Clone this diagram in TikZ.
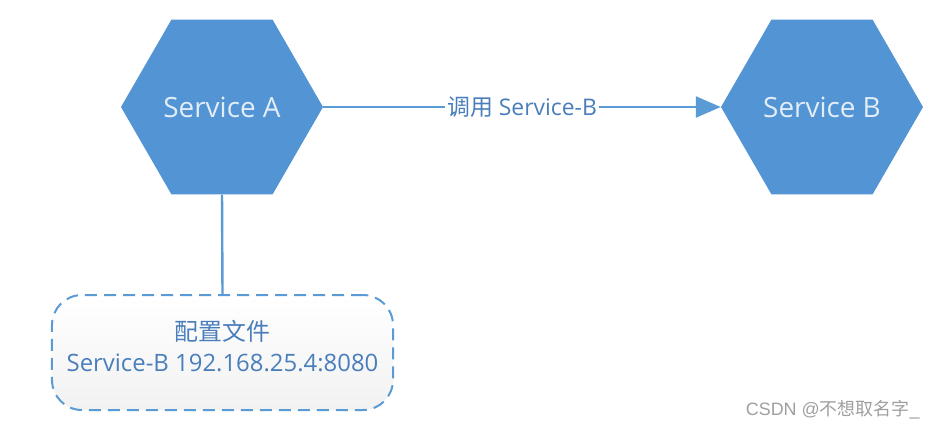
\documentclass[tikz,border=0pt]{standalone}
\usepackage{fontspec}
\setmainfont{Open Sans}
\newfontfamily\cjk{Noto Sans CJK SC}
\newfontfamily\wmfont{Liberation Sans}
\usetikzlibrary{shapes.geometric,arrows.meta}
\definecolor{hexblue}{HTML}{5294D4}
\definecolor{lineblue}{HTML}{5B9BD5}
\definecolor{txtblue}{HTML}{4A7EBB}
\definecolor{hextxt}{HTML}{E2EDF8}
\tikzset{
  service/.style={regular polygon, regular polygon sides=6, minimum size=202bp, inner sep=0pt,
    fill=hexblue, draw=none, text=hextxt, font=\fontsize{28}{32}\selectfont},
  conn/.style={draw=lineblue, line width=2.4bp},
  cfgbox/.style={draw=lineblue, line width=2bp, dash pattern=on 12bp off 7bp, rounded corners=30bp,
    minimum width=341bp, minimum height=115bp, top color=white, bottom color=blue!4!gray!10},
  cfgtext/.style={text=txtblue, align=center, inner sep=0pt, font=\fontsize{24}{32}\selectfont},
  midlabel/.style={fill=white, text=txtblue, inner sep=2bp, font=\fontsize{23}{26}\selectfont},
  wm/.style={text=gray!75, font=\fontsize{18}{22}\selectfont}
}
\begin{document}
\begin{tikzpicture}[x=1bp,y=-1bp]
\useasboundingbox[fill=white] (0,0) rectangle (937,429);
\node[service] (A) at (222,107) {Service A};
\node[service] (B) at (822,107) {Service B};
\node[cfgbox] (cfg) at (222.5,352.5) {};
\node[cfgtext] (cfgtxt) at (222.5,346) {{\cjk 配置文件}\\Service-B 192.168.25.4:8080};
\draw[conn, -{Triangle[length=25bp,width=21bp]}] (A.east) -- node[midlabel] (lbl) {{\cjk 调用} Service-B} (B.west);
\draw[conn] (A.south) -- (cfg.north);
\node[wm, anchor=east] (wmark) at (923,410) {\wmfont CSDN @{\cjk 不想取名字}\_};
\end{tikzpicture}
\end{document}
